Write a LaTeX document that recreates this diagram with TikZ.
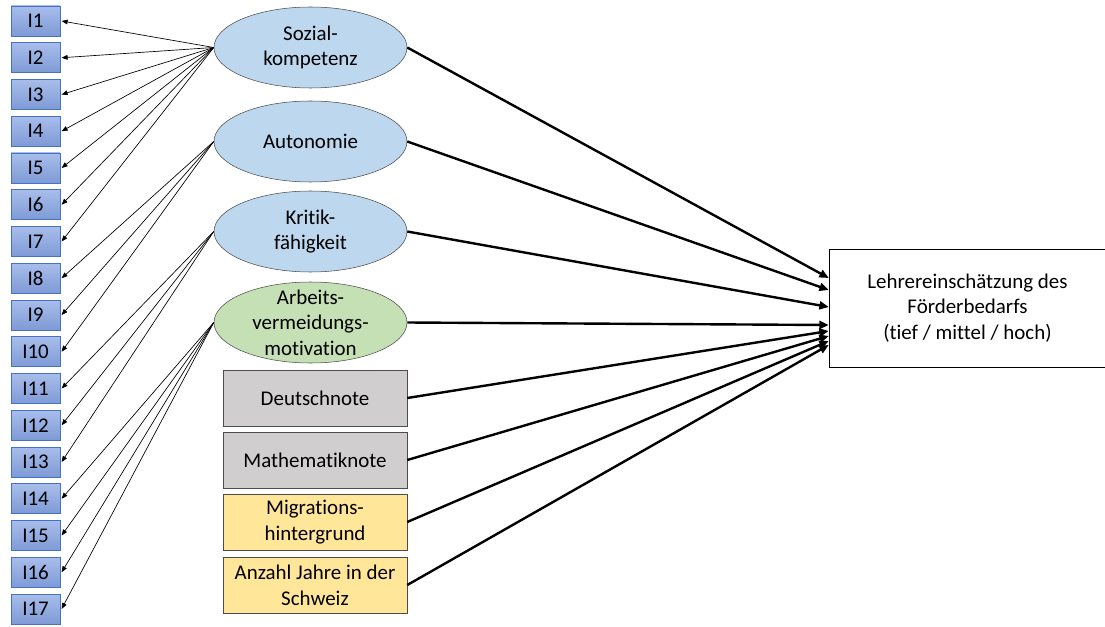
\documentclass[tikz,border=0pt]{standalone}
\usepackage{fontspec}
\setmainfont{Carlito}[Ligatures=NoCommon]
\usepackage{tikz}
\usetikzlibrary{
  shapes.geometric
  , calc
  % for arrow tips
  , arrows.meta
}
\definecolor{ItemTop}{RGB}{168,189,234}
\definecolor{ItemBottom}{RGB}{126,154,214}
\definecolor{ItemBorder}{RGB}{68,114,196}
\definecolor{FactorBlue}{RGB}{189,215,238}
\definecolor{FactorGreen}{RGB}{197,224,180}
\definecolor{NoteGray}{RGB}{208,206,206}
\definecolor{BackYellow}{RGB}{255,230,153}

\begin{document}
\begin{tikzpicture}[
    x=0.75pt, y=-0.75pt,
    every node/.style={font=\fontsize{15.7}{19.2}\selectfont},
    itembox/.style={draw=ItemBorder,
      top color=ItemTop,
      bottom color=ItemBottom,
      minimum width=36.75pt,
      minimum height=22.5pt,
      inner sep=0pt},
    factor/.style={draw=black!70,
      ellipse,
      minimum width=144.75pt,
      minimum height=60.75pt},
    covar/.style={draw=black!70,
      rectangle,
      minimum width=138pt,
      minimum height=42pt,
      align=center},
    loading/.style={-{Triangle[length=4.5pt,width=3.5pt]}, line width=0.5pt},
    effect/.style={-{Triangle[length=7pt,width=6pt]}, line width=1.8pt},
  ]
  \useasboundingbox (0,0) rectangle (1105,627);

  % items
  \foreach \i in {1,...,17}
    \node [itembox] (I\i) at (35.5, {21+36.75*(\i-1)}) {I\i};

  % factors
  \def\BlueFill {FactorBlue};
  \node [factor, fill=\BlueFill] (Sozial) at (310.5, 47.5){};
  \node [align=center] (SozialTxt) at (Sozial) {Sozial-\\kompetenz};
  \node [factor, fill=\BlueFill] (Auto) at (310.5, 141.5){};
  \node [align=center] (AutoTxt) at (Auto) {Autonomie};
  \node [factor, fill=\BlueFill] (Kritik) at (310.5, 231.5){};
  \node [align=center] (KritikTxt) at (Kritik) {Kritik-\\fähigkeit};
  \node [factor, fill=FactorGreen] (Arbeit) at (310.5, 322.5){};
  \node [align=center] (ArbeitTxt) at (Arbeit) {Arbeits-\\vermeidungs-\\motivation};

  % covariates
  \node [covar, fill=NoteGray] (Deutsch) at (315, 398){Deutschnote};
  \node [covar, fill=NoteGray] (Mathe) at (315, 460){Mathematiknote};
  \node [covar, fill=BackYellow] (Migra) at (315, 522){Migrations-\\hintergrund};
  \node [covar, fill=BackYellow] (Jahre) at (315, 585){Anzahl Jahre in der\\Schweiz};

  \node [draw,
    rectangle,
    minimum width=207.75pt,
    minimum height=88.5pt,
    align=center,
  ] (Target) at (967.5, 308){Lehrereinschätzung des\\Förderbedarfs\\(tief / mittel / hoch)};

  % loadings
  \foreach \i in {1,...,7}
    \draw [loading] (Sozial.west) -- ([xshift=1pt]I\i.east);
  \foreach \i in {8,9,10}
    \draw [loading] (Auto.west) -- ([xshift=1pt]I\i.east);
  \foreach \i in {11,12,13}
    \draw [loading] (Kritik.west) -- ([xshift=1pt]I\i.east);
  \foreach \i in {14,...,17}
    \draw [loading] (Arbeit.west) -- ([xshift=1pt]I\i.east);

  % effects on the teacher rating
  \foreach \src/\dy in {Sozial/-30, Auto/-18, Kritik/-1, Arbeit/17,
      Deutsch/23, Mathe/28, Migra/33, Jahre/37}
    \draw [effect] (\src.east) -- ($ (Target.west)+(0,\dy) $);
\end{tikzpicture}
\end{document}
